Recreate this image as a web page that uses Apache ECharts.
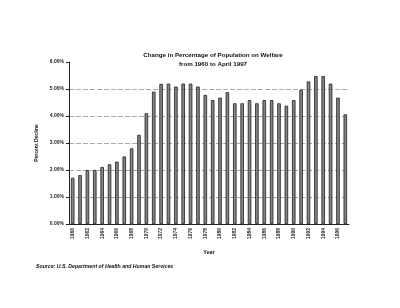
<!DOCTYPE html>
<html>
<head>
<meta charset="utf-8">
<script src="https://cdn.jsdelivr.net/npm/echarts@6/dist/echarts.min.js"></script>
<style>
  html, body { margin: 0; padding: 0; background: #fff; }
  #chart { width: 400px; height: 308px; }
</style>
</head>
<body>
<div id="chart"></div>
<script>
const years = Array.from({ length: 38 }, (_, i) => String(1960 + i));

// percent of population on welfare
const welfarePct = [
  1.71, 1.81, 2.00, 2.00, 2.11, 2.21, 2.31, 2.50, 2.80, 3.30,
  4.10, 4.90, 5.19, 5.20, 5.09, 5.20, 5.20, 5.09, 4.78, 4.59,
  4.68, 4.88, 4.47, 4.47, 4.59, 4.47, 4.59, 4.59, 4.47, 4.38,
  4.59, 4.97, 5.28, 5.48, 5.48, 5.20, 4.68, 4.06
];

const font = 'Liberation Sans';
const chart = echarts.init(document.getElementById('chart'));

chart.setOption({
  animation: false,
  backgroundColor: '#fff',
  title: {
    text: 'Change in Percentage of Population on Welfare\nfrom 1960 to April 1997',
    left: 208,
    top: 46,
    textAlign: 'center',
    textStyle: { fontFamily: font, fontSize: 6.2, fontWeight: 'bold', color: '#111', lineHeight: 9 }
  },
  grid: { left: 69, right: 51, top: 62, bottom: 84 },
  xAxis: {
    type: 'category',
    data: years,
    name: 'Year',
    nameLocation: 'middle',
    nameGap: 25,
    nameTextStyle: { fontFamily: font, fontSize: 5.5, fontWeight: 'bold', color: '#111' },
    axisLine: { lineStyle: { color: '#222', width: 1 } },
    axisTick: { interval: 0, length: 2, lineStyle: { color: '#222' } },
    axisLabel: {
      interval: 1,
      rotate: 90,
      margin: 4,
      fontFamily: font,
      fontSize: 5,
      fontWeight: 'bold',
      color: '#222'
    }
  },
  yAxis: {
    type: 'value',
    min: 0,
    max: 6,
    interval: 1,
    name: 'Percent Decline',
    nameLocation: 'middle',
    nameRotate: 90,
    nameGap: 23,
    nameTextStyle: { fontFamily: font, fontSize: 5, fontWeight: 'bold', color: '#111' },
    axisLine: { show: true, lineStyle: { color: '#222', width: 1 } },
    axisTick: { show: true, length: 3, lineStyle: { color: '#222' } },
    axisLabel: {
      formatter: (v) => v.toFixed(2) + '%',
      margin: 5,
      fontFamily: font,
      fontSize: 5,
      fontWeight: 'bold',
      color: '#222'
    },
    splitLine: {
      showMaxLine: false,
      lineStyle: { color: '#a8a8a8', width: 1, type: [5, 2] }
    }
  },
  series: [
    {
      type: 'bar',
      data: welfarePct,
      barWidth: 3.5,
      itemStyle: { color: '#858585', borderColor: '#1e1e1e', borderWidth: 0.8 }
    }
  ],
  graphic: [
    {
      type: 'text',
      left: 36,
      top: 264,
      style: {
        text: 'Source: U.S. Department of Health and Human Services',
        fontFamily: font,
        fontSize: 5.2,
        fontWeight: 'bold',
        fontStyle: 'italic',
        fill: '#111'
      }
    }
  ]
});
</script>
</body>
</html>
